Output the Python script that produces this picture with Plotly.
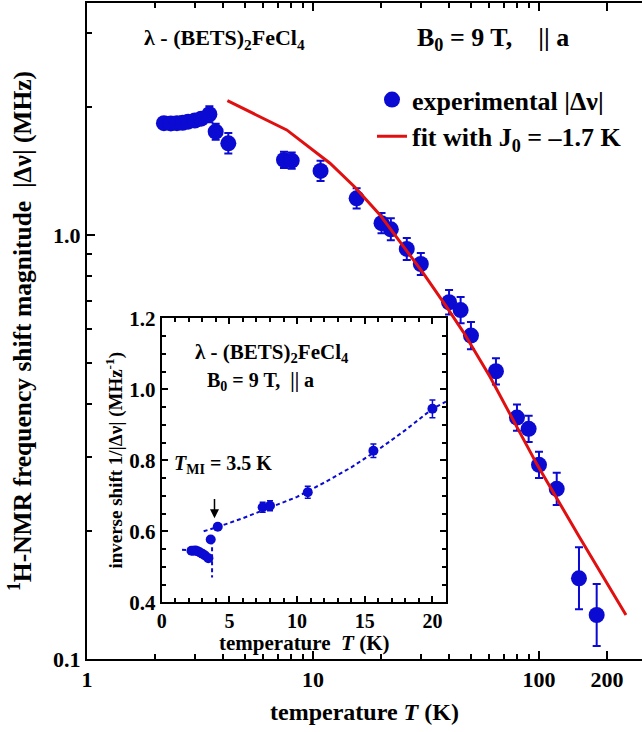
import plotly.graph_objects as go

# ---- main panel: |Δν| vs T (log-log) ----
T_exp = [2.19, 2.35, 2.5, 2.65, 2.8, 3.0, 3.2, 3.48, 3.71, 4.22, 7.44, 8.05, 10.8, 15.6,
         20.1, 22.1, 26.0, 30.0, 40.0, 45.0, 50.0, 64.5, 79.9, 90.0, 100.0, 119.8, 150.3, 180.0]
dnu_exp = [1.835, 1.832, 1.835, 1.838, 1.850, 1.862, 1.880, 1.926, 1.752, 1.645, 1.503, 1.497,
           1.416, 1.220, 1.066, 1.031, 0.927, 0.854, 0.694, 0.665, 0.579, 0.477, 0.371, 0.349,
           0.287, 0.252, 0.155, 0.127]
# error bar half-widths in decades of |Δν|
dnu_logerr = [0.012, 0.012, 0.012, 0.012, 0.012, 0.012, 0.012, 0.019, 0.019, 0.024, 0.019, 0.019,
              0.024, 0.024, 0.024, 0.026, 0.026, 0.026, 0.029, 0.031, 0.032, 0.031, 0.031, 0.031,
              0.031, 0.038, 0.073, 0.073]

T_fit = [4.18, 7.65, 11.89, 15.34, 19.79, 23.5, 30.8, 39.0, 46.2, 60.7, 98.2, 150.0, 242.6]
dnu_fit = [2.073, 1.769, 1.476, 1.296, 1.115, 0.988, 0.812, 0.677, 0.591, 0.463, 0.287, 0.195, 0.127]

# ---- inset: inverse shift vs T (linear) ----
T_inv = [2.2, 2.35, 2.5, 2.65, 2.8, 3.0, 3.2, 3.45, 3.62, 4.14, 7.46, 8.0, 10.79, 15.64, 20.0]
inv_shift = [0.545, 0.545, 0.546, 0.544, 0.541, 0.537, 0.532, 0.524, 0.577, 0.613, 0.668, 0.672,
             0.710, 0.827, 0.945]
inv_err = [0.004, 0.004, 0.004, 0.004, 0.004, 0.004, 0.004, 0.005, 0.007, 0.008, 0.014, 0.014,
           0.017, 0.019, 0.025]

T_low_guide = [1.5, 2.2, 2.8, 3.2, 3.5, 3.68]
inv_low_guide = [0.548, 0.546, 0.541, 0.533, 0.524, 0.515]
T_drop_guide = [3.72, 3.72]
inv_drop_guide = [0.575, 0.47]
T_high_guide = [3.1, 4.2, 6.0, 8.0, 10.0, 12.0, 14.0, 16.0, 18.0, 20.0, 21.0]
inv_high_guide = [0.600, 0.613, 0.637, 0.668, 0.697, 0.737, 0.780, 0.830, 0.885, 0.945, 0.965]

T_MI = 3.9

x_ticks = [1, 10, 100, 200]
x_ticktext = ["1", "10", "100", "200"]
x_minor = [2, 3, 4, 5, 6, 7, 8, 9, 20, 30, 40, 50, 60, 70, 80, 90, 300]
y_ticks = [0.1, 1.0]
y_ticktext = ["0.1", "1.0"]
y_minor = [0.2, 0.3, 0.4, 0.5, 0.6, 0.7, 0.8, 0.9, 2, 3]

BLUE = "#0a0ad2"
RED = "#e01010"
FONT = "Liberation Serif"
SP = "\u00a0"

err_plus = [v * (10 ** e - 1) for v, e in zip(dnu_exp, dnu_logerr)]
err_minus = [v * (1 - 10 ** -e) for v, e in zip(dnu_exp, dnu_logerr)]

fig = go.Figure()

fig.add_trace(go.Scatter(
    x=T_exp, y=dnu_exp, mode="markers", name="experimental |Δν|",
    legendgroup="a",
    marker=dict(color=BLUE, size=16),
    error_y=dict(type="data", array=err_plus, arrayminus=err_minus, color=BLUE,
                 thickness=2, width=4),
    xaxis="x", yaxis="y"))

fig.add_trace(go.Scatter(
    x=T_fit, y=dnu_fit, mode="lines", name="fit with J<sub>0</sub> = –1.7 K",
    legendgroup="b",
    line=dict(color=RED, width=3),
    xaxis="x", yaxis="y"))

# inset traces
dash = dict(color=BLUE, width=2, dash="4px,3px")
for tx, ty in [(T_low_guide, inv_low_guide), (T_drop_guide, inv_drop_guide),
               (T_high_guide, inv_high_guide)]:
    fig.add_trace(go.Scatter(x=tx, y=ty, mode="lines", line=dash, showlegend=False,
                             hoverinfo="skip", xaxis="x2", yaxis="y2"))

fig.add_trace(go.Scatter(
    x=T_inv, y=inv_shift, mode="markers", showlegend=False,
    marker=dict(color=BLUE, size=10),
    error_y=dict(type="data", array=inv_err, color=BLUE, thickness=1.5, width=3),
    xaxis="x2", yaxis="y2"))

axis_common = dict(showline=True, linecolor="black", linewidth=2, ticks="inside",
                   tickcolor="black", showgrid=False, zeroline=False, automargin=False)

fig.update_layout(
    width=642, height=732,
    margin=dict(l=87, r=0, t=3, b=73),
    paper_bgcolor="white", plot_bgcolor="white",
    font=dict(family=FONT, size=20, color="black", weight="bold"),
    xaxis=dict(type="log", range=[0, 2.4558], domain=[0, 1], anchor="y",
               tickvals=x_ticks, ticktext=x_ticktext, ticklen=8, tickwidth=1.5,
               mirror="ticks",
               minor=dict(tickvals=x_minor, ticks="inside", ticklen=5, tickwidth=1.5,
                          tickcolor="black"),
               tickfont=dict(size=22),
               title=dict(text="temperature <i>T</i> (K)", font=dict(size=24), standoff=12),
               **axis_common),
    yaxis=dict(type="log", range=[-1, 0.547], domain=[0, 1], anchor="x",
               tickvals=y_ticks, ticktext=y_ticktext, ticklen=8, tickwidth=1.5,
               minor=dict(tickvals=y_minor, ticks="inside", ticklen=5, tickwidth=1.5,
                          tickcolor="black"),
               tickfont=dict(size=22),
               title=dict(text="<sup>1</sup>H-NMR frequency shift magnitude " + SP + "|Δν| (MHz)",
                          font=dict(size=25.5), standoff=14),
               **axis_common),
    xaxis2=dict(range=[0, 21], domain=[0.1346, 0.6468], anchor="y2",
                tickvals=[0, 5, 10, 15, 20], ticklen=6, tickwidth=1.5, mirror="allticks",
                minor=dict(dtick=1, ticks="inside", ticklen=4, tickwidth=1.5, tickcolor="black"),
                tickfont=dict(size=20),
                **axis_common),
    yaxis2=dict(range=[0.4, 1.2], domain=[0.0864, 0.5194], anchor="x2",
                tickvals=[0.4, 0.6, 0.8, 1.0, 1.2], ticktext=["0.4", "0.6", "0.8", "1.0", "1.2"],
                ticklen=6, tickwidth=1.5, mirror="allticks",
                minor=dict(dtick=0.05, ticks="inside", ticklen=4, tickwidth=1.5, tickcolor="black"),
                tickfont=dict(size=21),
                title=dict(text="inverse shift 1/|Δν| (MHz<sup>-1</sup>)", font=dict(size=19),
                           standoff=2),
                **axis_common),
    legend=dict(x=0.5135, y=0.8885, xanchor="left", yanchor="top",
                bgcolor="rgba(0,0,0,0)", font=dict(size=26), tracegroupgap=0,
                itemsizing="trace"),
    showlegend=True,
)

# panel labels
fig.add_annotation(xref="paper", yref="paper", x=(142 - 87) / 555, y=0.9444, showarrow=False,
                   xanchor="left", yanchor="middle",
                   text="λ - (BETS)<sub>2</sub>FeCl<sub>4</sub>", font=dict(size=22))
fig.add_annotation(xref="paper", yref="paper", x=(415 - 87) / 555, y=0.9444, showarrow=False,
                   xanchor="left", yanchor="middle",
                   text="B<sub>0</sub> = 9 T," + SP * 4 + "|| a", font=dict(size=26))

# inset labels
fig.add_annotation(xref="paper", yref="paper", x=(304 - 87) / 555, y=(659 - 643) / 656,
                   showarrow=False, xanchor="center", yanchor="middle",
                   text="temperature " + SP + "<i>T</i> (K)", font=dict(size=21))
fig.add_annotation(xref="x2", yref="y2", x=8.15, y=1.101, showarrow=False, xanchor="center",
                   text="λ - (BETS)<sub>2</sub>FeCl<sub>4</sub>", font=dict(size=21))
fig.add_annotation(xref="x2", yref="y2", x=7.3, y=1.022, showarrow=False, xanchor="center",
                   text="B<sub>0</sub> = 9 T," + SP * 2 + "|| a", font=dict(size=20))
fig.add_annotation(xref="x2", yref="y2", x=4.56, y=0.787, showarrow=False, xanchor="center",
                   text="<i>T</i><sub>MI</sub> = 3.5 K", font=dict(size=20))
fig.add_annotation(xref="x2", yref="y2", x=T_MI, y=0.637, ax=T_MI, ay=0.695,
                   axref="x2", ayref="y2", text="", showarrow=True,
                   arrowhead=2, arrowsize=1.2, arrowwidth=1.5, arrowcolor="black")

fig.write_html("out.html")
